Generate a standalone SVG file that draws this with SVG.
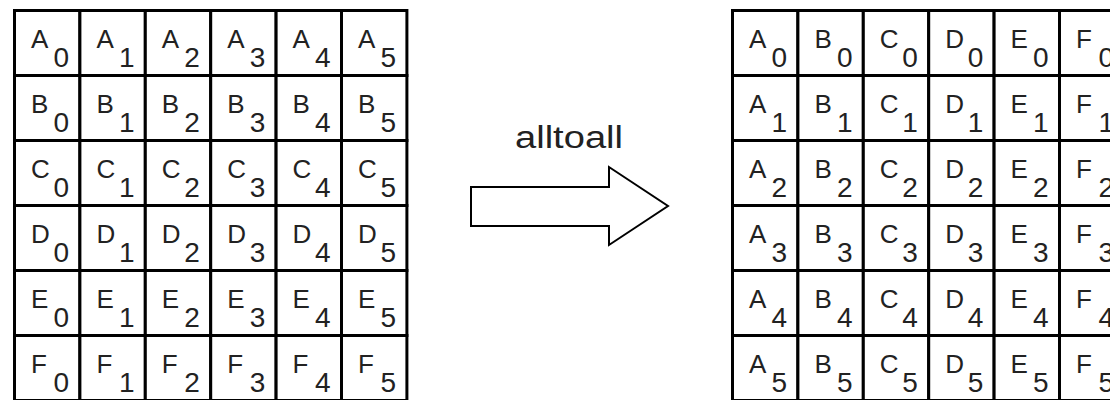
<svg xmlns="http://www.w3.org/2000/svg" width="1110" height="400" viewBox="0 0 1110 400">
<style>
.cell{fill:#fff;stroke:#000;stroke-width:3}
.t{font-family:"Liberation Sans",Arial,sans-serif;font-size:26px;fill:#222}
.s{font-size:28px}
.lbl{font-family:"Liberation Sans",Arial,sans-serif;font-size:31px;fill:#222}
.arrow{fill:#fff;stroke:#000;stroke-width:2;stroke-linejoin:miter}
</style>
<rect width="1110" height="400" fill="#fff"/>
<g id="left-grid">
<g id="L-A0" transform="translate(14.5 10.5)"><rect class="cell" width="65.4" height="65"/><text class="t" x="16.5" y="37.5">A<tspan class="s" x="39" y="56">0</tspan></text></g>
<g id="L-A1" transform="translate(79.9 10.5)"><rect class="cell" width="65.4" height="65"/><text class="t" x="16.5" y="37.5">A<tspan class="s" x="39" y="56">1</tspan></text></g>
<g id="L-A2" transform="translate(145.3 10.5)"><rect class="cell" width="65.4" height="65"/><text class="t" x="16.5" y="37.5">A<tspan class="s" x="39" y="56">2</tspan></text></g>
<g id="L-A3" transform="translate(210.7 10.5)"><rect class="cell" width="65.4" height="65"/><text class="t" x="16.5" y="37.5">A<tspan class="s" x="39" y="56">3</tspan></text></g>
<g id="L-A4" transform="translate(276.1 10.5)"><rect class="cell" width="65.4" height="65"/><text class="t" x="16.5" y="37.5">A<tspan class="s" x="39" y="56">4</tspan></text></g>
<g id="L-A5" transform="translate(341.5 10.5)"><rect class="cell" width="65.4" height="65"/><text class="t" x="16.5" y="37.5">A<tspan class="s" x="39" y="56">5</tspan></text></g>

<g id="L-B0" transform="translate(14.5 75.5)"><rect class="cell" width="65.4" height="65"/><text class="t" x="16.5" y="37.5">B<tspan class="s" x="39" y="56">0</tspan></text></g>
<g id="L-B1" transform="translate(79.9 75.5)"><rect class="cell" width="65.4" height="65"/><text class="t" x="16.5" y="37.5">B<tspan class="s" x="39" y="56">1</tspan></text></g>
<g id="L-B2" transform="translate(145.3 75.5)"><rect class="cell" width="65.4" height="65"/><text class="t" x="16.5" y="37.5">B<tspan class="s" x="39" y="56">2</tspan></text></g>
<g id="L-B3" transform="translate(210.7 75.5)"><rect class="cell" width="65.4" height="65"/><text class="t" x="16.5" y="37.5">B<tspan class="s" x="39" y="56">3</tspan></text></g>
<g id="L-B4" transform="translate(276.1 75.5)"><rect class="cell" width="65.4" height="65"/><text class="t" x="16.5" y="37.5">B<tspan class="s" x="39" y="56">4</tspan></text></g>
<g id="L-B5" transform="translate(341.5 75.5)"><rect class="cell" width="65.4" height="65"/><text class="t" x="16.5" y="37.5">B<tspan class="s" x="39" y="56">5</tspan></text></g>

<g id="L-C0" transform="translate(14.5 140.5)"><rect class="cell" width="65.4" height="65"/><text class="t" x="16.5" y="37.5">C<tspan class="s" x="39" y="56">0</tspan></text></g>
<g id="L-C1" transform="translate(79.9 140.5)"><rect class="cell" width="65.4" height="65"/><text class="t" x="16.5" y="37.5">C<tspan class="s" x="39" y="56">1</tspan></text></g>
<g id="L-C2" transform="translate(145.3 140.5)"><rect class="cell" width="65.4" height="65"/><text class="t" x="16.5" y="37.5">C<tspan class="s" x="39" y="56">2</tspan></text></g>
<g id="L-C3" transform="translate(210.7 140.5)"><rect class="cell" width="65.4" height="65"/><text class="t" x="16.5" y="37.5">C<tspan class="s" x="39" y="56">3</tspan></text></g>
<g id="L-C4" transform="translate(276.1 140.5)"><rect class="cell" width="65.4" height="65"/><text class="t" x="16.5" y="37.5">C<tspan class="s" x="39" y="56">4</tspan></text></g>
<g id="L-C5" transform="translate(341.5 140.5)"><rect class="cell" width="65.4" height="65"/><text class="t" x="16.5" y="37.5">C<tspan class="s" x="39" y="56">5</tspan></text></g>

<g id="L-D0" transform="translate(14.5 205.5)"><rect class="cell" width="65.4" height="65"/><text class="t" x="16.5" y="37.5">D<tspan class="s" x="39" y="56">0</tspan></text></g>
<g id="L-D1" transform="translate(79.9 205.5)"><rect class="cell" width="65.4" height="65"/><text class="t" x="16.5" y="37.5">D<tspan class="s" x="39" y="56">1</tspan></text></g>
<g id="L-D2" transform="translate(145.3 205.5)"><rect class="cell" width="65.4" height="65"/><text class="t" x="16.5" y="37.5">D<tspan class="s" x="39" y="56">2</tspan></text></g>
<g id="L-D3" transform="translate(210.7 205.5)"><rect class="cell" width="65.4" height="65"/><text class="t" x="16.5" y="37.5">D<tspan class="s" x="39" y="56">3</tspan></text></g>
<g id="L-D4" transform="translate(276.1 205.5)"><rect class="cell" width="65.4" height="65"/><text class="t" x="16.5" y="37.5">D<tspan class="s" x="39" y="56">4</tspan></text></g>
<g id="L-D5" transform="translate(341.5 205.5)"><rect class="cell" width="65.4" height="65"/><text class="t" x="16.5" y="37.5">D<tspan class="s" x="39" y="56">5</tspan></text></g>

<g id="L-E0" transform="translate(14.5 270.5)"><rect class="cell" width="65.4" height="65"/><text class="t" x="16.5" y="37.5">E<tspan class="s" x="39" y="56">0</tspan></text></g>
<g id="L-E1" transform="translate(79.9 270.5)"><rect class="cell" width="65.4" height="65"/><text class="t" x="16.5" y="37.5">E<tspan class="s" x="39" y="56">1</tspan></text></g>
<g id="L-E2" transform="translate(145.3 270.5)"><rect class="cell" width="65.4" height="65"/><text class="t" x="16.5" y="37.5">E<tspan class="s" x="39" y="56">2</tspan></text></g>
<g id="L-E3" transform="translate(210.7 270.5)"><rect class="cell" width="65.4" height="65"/><text class="t" x="16.5" y="37.5">E<tspan class="s" x="39" y="56">3</tspan></text></g>
<g id="L-E4" transform="translate(276.1 270.5)"><rect class="cell" width="65.4" height="65"/><text class="t" x="16.5" y="37.5">E<tspan class="s" x="39" y="56">4</tspan></text></g>
<g id="L-E5" transform="translate(341.5 270.5)"><rect class="cell" width="65.4" height="65"/><text class="t" x="16.5" y="37.5">E<tspan class="s" x="39" y="56">5</tspan></text></g>

<g id="L-F0" transform="translate(14.5 335.5)"><rect class="cell" width="65.4" height="65"/><text class="t" x="16.5" y="37.5">F<tspan class="s" x="39" y="56">0</tspan></text></g>
<g id="L-F1" transform="translate(79.9 335.5)"><rect class="cell" width="65.4" height="65"/><text class="t" x="16.5" y="37.5">F<tspan class="s" x="39" y="56">1</tspan></text></g>
<g id="L-F2" transform="translate(145.3 335.5)"><rect class="cell" width="65.4" height="65"/><text class="t" x="16.5" y="37.5">F<tspan class="s" x="39" y="56">2</tspan></text></g>
<g id="L-F3" transform="translate(210.7 335.5)"><rect class="cell" width="65.4" height="65"/><text class="t" x="16.5" y="37.5">F<tspan class="s" x="39" y="56">3</tspan></text></g>
<g id="L-F4" transform="translate(276.1 335.5)"><rect class="cell" width="65.4" height="65"/><text class="t" x="16.5" y="37.5">F<tspan class="s" x="39" y="56">4</tspan></text></g>
<g id="L-F5" transform="translate(341.5 335.5)"><rect class="cell" width="65.4" height="65"/><text class="t" x="16.5" y="37.5">F<tspan class="s" x="39" y="56">5</tspan></text></g>
</g>

<g id="right-grid">
<g id="R-A0" transform="translate(732.5 10.5)"><rect class="cell" width="65.4" height="65"/><text class="t" x="16.5" y="37.5">A<tspan class="s" x="39" y="56">0</tspan></text></g>
<g id="R-B0" transform="translate(797.9 10.5)"><rect class="cell" width="65.4" height="65"/><text class="t" x="16.5" y="37.5">B<tspan class="s" x="39" y="56">0</tspan></text></g>
<g id="R-C0" transform="translate(863.3 10.5)"><rect class="cell" width="65.4" height="65"/><text class="t" x="16.5" y="37.5">C<tspan class="s" x="39" y="56">0</tspan></text></g>
<g id="R-D0" transform="translate(928.7 10.5)"><rect class="cell" width="65.4" height="65"/><text class="t" x="16.5" y="37.5">D<tspan class="s" x="39" y="56">0</tspan></text></g>
<g id="R-E0" transform="translate(994.1 10.5)"><rect class="cell" width="65.4" height="65"/><text class="t" x="16.5" y="37.5">E<tspan class="s" x="39" y="56">0</tspan></text></g>
<g id="R-F0" transform="translate(1059.5 10.5)"><rect class="cell" width="65.4" height="65"/><text class="t" x="16.5" y="37.5">F<tspan class="s" x="39" y="56">0</tspan></text></g>

<g id="R-A1" transform="translate(732.5 75.5)"><rect class="cell" width="65.4" height="65"/><text class="t" x="16.5" y="37.5">A<tspan class="s" x="39" y="56">1</tspan></text></g>
<g id="R-B1" transform="translate(797.9 75.5)"><rect class="cell" width="65.4" height="65"/><text class="t" x="16.5" y="37.5">B<tspan class="s" x="39" y="56">1</tspan></text></g>
<g id="R-C1" transform="translate(863.3 75.5)"><rect class="cell" width="65.4" height="65"/><text class="t" x="16.5" y="37.5">C<tspan class="s" x="39" y="56">1</tspan></text></g>
<g id="R-D1" transform="translate(928.7 75.5)"><rect class="cell" width="65.4" height="65"/><text class="t" x="16.5" y="37.5">D<tspan class="s" x="39" y="56">1</tspan></text></g>
<g id="R-E1" transform="translate(994.1 75.5)"><rect class="cell" width="65.4" height="65"/><text class="t" x="16.5" y="37.5">E<tspan class="s" x="39" y="56">1</tspan></text></g>
<g id="R-F1" transform="translate(1059.5 75.5)"><rect class="cell" width="65.4" height="65"/><text class="t" x="16.5" y="37.5">F<tspan class="s" x="39" y="56">1</tspan></text></g>

<g id="R-A2" transform="translate(732.5 140.5)"><rect class="cell" width="65.4" height="65"/><text class="t" x="16.5" y="37.5">A<tspan class="s" x="39" y="56">2</tspan></text></g>
<g id="R-B2" transform="translate(797.9 140.5)"><rect class="cell" width="65.4" height="65"/><text class="t" x="16.5" y="37.5">B<tspan class="s" x="39" y="56">2</tspan></text></g>
<g id="R-C2" transform="translate(863.3 140.5)"><rect class="cell" width="65.4" height="65"/><text class="t" x="16.5" y="37.5">C<tspan class="s" x="39" y="56">2</tspan></text></g>
<g id="R-D2" transform="translate(928.7 140.5)"><rect class="cell" width="65.4" height="65"/><text class="t" x="16.5" y="37.5">D<tspan class="s" x="39" y="56">2</tspan></text></g>
<g id="R-E2" transform="translate(994.1 140.5)"><rect class="cell" width="65.4" height="65"/><text class="t" x="16.5" y="37.5">E<tspan class="s" x="39" y="56">2</tspan></text></g>
<g id="R-F2" transform="translate(1059.5 140.5)"><rect class="cell" width="65.4" height="65"/><text class="t" x="16.5" y="37.5">F<tspan class="s" x="39" y="56">2</tspan></text></g>

<g id="R-A3" transform="translate(732.5 205.5)"><rect class="cell" width="65.4" height="65"/><text class="t" x="16.5" y="37.5">A<tspan class="s" x="39" y="56">3</tspan></text></g>
<g id="R-B3" transform="translate(797.9 205.5)"><rect class="cell" width="65.4" height="65"/><text class="t" x="16.5" y="37.5">B<tspan class="s" x="39" y="56">3</tspan></text></g>
<g id="R-C3" transform="translate(863.3 205.5)"><rect class="cell" width="65.4" height="65"/><text class="t" x="16.5" y="37.5">C<tspan class="s" x="39" y="56">3</tspan></text></g>
<g id="R-D3" transform="translate(928.7 205.5)"><rect class="cell" width="65.4" height="65"/><text class="t" x="16.5" y="37.5">D<tspan class="s" x="39" y="56">3</tspan></text></g>
<g id="R-E3" transform="translate(994.1 205.5)"><rect class="cell" width="65.4" height="65"/><text class="t" x="16.5" y="37.5">E<tspan class="s" x="39" y="56">3</tspan></text></g>
<g id="R-F3" transform="translate(1059.5 205.5)"><rect class="cell" width="65.4" height="65"/><text class="t" x="16.5" y="37.5">F<tspan class="s" x="39" y="56">3</tspan></text></g>

<g id="R-A4" transform="translate(732.5 270.5)"><rect class="cell" width="65.4" height="65"/><text class="t" x="16.5" y="37.5">A<tspan class="s" x="39" y="56">4</tspan></text></g>
<g id="R-B4" transform="translate(797.9 270.5)"><rect class="cell" width="65.4" height="65"/><text class="t" x="16.5" y="37.5">B<tspan class="s" x="39" y="56">4</tspan></text></g>
<g id="R-C4" transform="translate(863.3 270.5)"><rect class="cell" width="65.4" height="65"/><text class="t" x="16.5" y="37.5">C<tspan class="s" x="39" y="56">4</tspan></text></g>
<g id="R-D4" transform="translate(928.7 270.5)"><rect class="cell" width="65.4" height="65"/><text class="t" x="16.5" y="37.5">D<tspan class="s" x="39" y="56">4</tspan></text></g>
<g id="R-E4" transform="translate(994.1 270.5)"><rect class="cell" width="65.4" height="65"/><text class="t" x="16.5" y="37.5">E<tspan class="s" x="39" y="56">4</tspan></text></g>
<g id="R-F4" transform="translate(1059.5 270.5)"><rect class="cell" width="65.4" height="65"/><text class="t" x="16.5" y="37.5">F<tspan class="s" x="39" y="56">4</tspan></text></g>

<g id="R-A5" transform="translate(732.5 335.5)"><rect class="cell" width="65.4" height="65"/><text class="t" x="16.5" y="37.5">A<tspan class="s" x="39" y="56">5</tspan></text></g>
<g id="R-B5" transform="translate(797.9 335.5)"><rect class="cell" width="65.4" height="65"/><text class="t" x="16.5" y="37.5">B<tspan class="s" x="39" y="56">5</tspan></text></g>
<g id="R-C5" transform="translate(863.3 335.5)"><rect class="cell" width="65.4" height="65"/><text class="t" x="16.5" y="37.5">C<tspan class="s" x="39" y="56">5</tspan></text></g>
<g id="R-D5" transform="translate(928.7 335.5)"><rect class="cell" width="65.4" height="65"/><text class="t" x="16.5" y="37.5">D<tspan class="s" x="39" y="56">5</tspan></text></g>
<g id="R-E5" transform="translate(994.1 335.5)"><rect class="cell" width="65.4" height="65"/><text class="t" x="16.5" y="37.5">E<tspan class="s" x="39" y="56">5</tspan></text></g>
<g id="R-F5" transform="translate(1059.5 335.5)"><rect class="cell" width="65.4" height="65"/><text class="t" x="16.5" y="37.5">F<tspan class="s" x="39" y="56">5</tspan></text></g>
</g>

<g id="connectors">
<polygon class="arrow" points="471,187 609,187 609,167 668,206 609,245 609,226 471,226"/>
<text class="lbl" x="515" y="148" textLength="108" lengthAdjust="spacingAndGlyphs">alltoall</text>
</g>
</svg>
